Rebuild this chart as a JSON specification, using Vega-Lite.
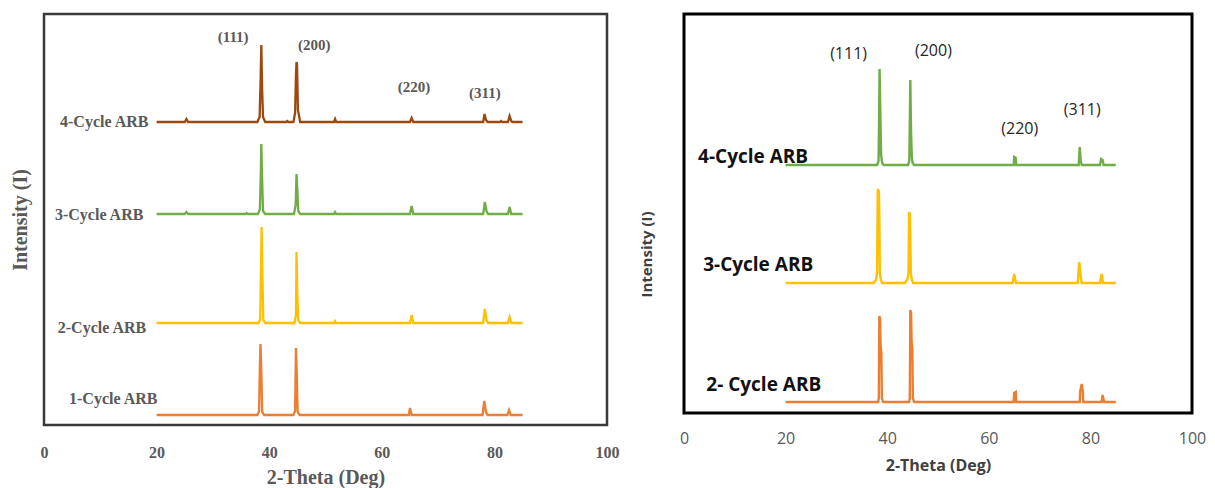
{
  "$schema": "https://vega.github.io/schema/vega-lite/v6.json",
  "background": "white",
  "padding": {"left": 8, "top": 12, "right": 0, "bottom": 0},
  "spacing": 16,
  "config": {"view": {"stroke": null}, "axis": {"grid": false}},
  "datasets": {
    "L": [
      {"s": "4-Cycle", "x": 20, "y": 303}, {"s": "4-Cycle", "x": 25.0, "y": 303}, {"s": "4-Cycle", "x": 25.3, "y": 306}, {"s": "4-Cycle", "x": 25.6, "y": 303},
      {"s": "4-Cycle", "x": 37.9, "y": 303}, {"s": "4-Cycle", "x": 38.3, "y": 308}, {"s": "4-Cycle", "x": 38.45, "y": 340}, {"s": "4-Cycle", "x": 38.6, "y": 380}, {"s": "4-Cycle", "x": 38.75, "y": 335}, {"s": "4-Cycle", "x": 38.9, "y": 308}, {"s": "4-Cycle", "x": 39.3, "y": 303},
      {"s": "4-Cycle", "x": 43.0, "y": 303}, {"s": "4-Cycle", "x": 43.2, "y": 304}, {"s": "4-Cycle", "x": 43.4, "y": 303},
      {"s": "4-Cycle", "x": 44.3, "y": 303}, {"s": "4-Cycle", "x": 44.6, "y": 312}, {"s": "4-Cycle", "x": 44.75, "y": 350}, {"s": "4-Cycle", "x": 44.85, "y": 363}, {"s": "4-Cycle", "x": 44.95, "y": 360}, {"s": "4-Cycle", "x": 45.1, "y": 315}, {"s": "4-Cycle", "x": 45.5, "y": 303},
      {"s": "4-Cycle", "x": 51.5, "y": 303}, {"s": "4-Cycle", "x": 51.7, "y": 306}, {"s": "4-Cycle", "x": 51.9, "y": 303},
      {"s": "4-Cycle", "x": 65.0, "y": 303}, {"s": "4-Cycle", "x": 65.3, "y": 307}, {"s": "4-Cycle", "x": 65.6, "y": 303},
      {"s": "4-Cycle", "x": 78.0, "y": 303}, {"s": "4-Cycle", "x": 78.25, "y": 311}, {"s": "4-Cycle", "x": 78.5, "y": 305}, {"s": "4-Cycle", "x": 78.8, "y": 303},
      {"s": "4-Cycle", "x": 81.0, "y": 303}, {"s": "4-Cycle", "x": 81.2, "y": 304}, {"s": "4-Cycle", "x": 81.4, "y": 303},
      {"s": "4-Cycle", "x": 82.4, "y": 303}, {"s": "4-Cycle", "x": 82.7, "y": 309}, {"s": "4-Cycle", "x": 83.0, "y": 304}, {"s": "4-Cycle", "x": 83.2, "y": 303}, {"s": "4-Cycle", "x": 85, "y": 303},

      {"s": "3-Cycle", "x": 20, "y": 211}, {"s": "3-Cycle", "x": 25.0, "y": 211}, {"s": "3-Cycle", "x": 25.3, "y": 213}, {"s": "3-Cycle", "x": 25.6, "y": 211},
      {"s": "3-Cycle", "x": 35.8, "y": 211}, {"s": "3-Cycle", "x": 36.0, "y": 212}, {"s": "3-Cycle", "x": 36.2, "y": 211},
      {"s": "3-Cycle", "x": 38.0, "y": 211}, {"s": "3-Cycle", "x": 38.35, "y": 216}, {"s": "3-Cycle", "x": 38.5, "y": 250}, {"s": "3-Cycle", "x": 38.6, "y": 281}, {"s": "3-Cycle", "x": 38.75, "y": 245}, {"s": "3-Cycle", "x": 38.9, "y": 214}, {"s": "3-Cycle", "x": 39.3, "y": 211},
      {"s": "3-Cycle", "x": 44.4, "y": 211}, {"s": "3-Cycle", "x": 44.7, "y": 220}, {"s": "3-Cycle", "x": 44.85, "y": 251}, {"s": "3-Cycle", "x": 45.0, "y": 235}, {"s": "3-Cycle", "x": 45.15, "y": 214}, {"s": "3-Cycle", "x": 45.5, "y": 211},
      {"s": "3-Cycle", "x": 51.5, "y": 211}, {"s": "3-Cycle", "x": 51.7, "y": 213}, {"s": "3-Cycle", "x": 51.9, "y": 211},
      {"s": "3-Cycle", "x": 65.0, "y": 211}, {"s": "3-Cycle", "x": 65.3, "y": 219}, {"s": "3-Cycle", "x": 65.6, "y": 211},
      {"s": "3-Cycle", "x": 78.0, "y": 211}, {"s": "3-Cycle", "x": 78.3, "y": 223}, {"s": "3-Cycle", "x": 78.6, "y": 214}, {"s": "3-Cycle", "x": 78.9, "y": 211},
      {"s": "3-Cycle", "x": 82.4, "y": 211}, {"s": "3-Cycle", "x": 82.7, "y": 218}, {"s": "3-Cycle", "x": 83.0, "y": 211}, {"s": "3-Cycle", "x": 85, "y": 211},

      {"s": "2-Cycle", "x": 20, "y": 102}, {"s": "2-Cycle", "x": 38.1, "y": 102}, {"s": "2-Cycle", "x": 38.4, "y": 106}, {"s": "2-Cycle", "x": 38.55, "y": 160}, {"s": "2-Cycle", "x": 38.65, "y": 198}, {"s": "2-Cycle", "x": 38.8, "y": 150}, {"s": "2-Cycle", "x": 38.95, "y": 105}, {"s": "2-Cycle", "x": 39.3, "y": 102},
      {"s": "2-Cycle", "x": 44.5, "y": 102}, {"s": "2-Cycle", "x": 44.75, "y": 110}, {"s": "2-Cycle", "x": 44.85, "y": 173}, {"s": "2-Cycle", "x": 45.0, "y": 130}, {"s": "2-Cycle", "x": 45.15, "y": 105}, {"s": "2-Cycle", "x": 45.5, "y": 102},
      {"s": "2-Cycle", "x": 51.5, "y": 102}, {"s": "2-Cycle", "x": 51.7, "y": 104}, {"s": "2-Cycle", "x": 51.9, "y": 102},
      {"s": "2-Cycle", "x": 65.0, "y": 102}, {"s": "2-Cycle", "x": 65.3, "y": 110}, {"s": "2-Cycle", "x": 65.6, "y": 102},
      {"s": "2-Cycle", "x": 78.0, "y": 102}, {"s": "2-Cycle", "x": 78.3, "y": 116}, {"s": "2-Cycle", "x": 78.6, "y": 105}, {"s": "2-Cycle", "x": 78.9, "y": 102},
      {"s": "2-Cycle", "x": 82.4, "y": 102}, {"s": "2-Cycle", "x": 82.7, "y": 108}, {"s": "2-Cycle", "x": 83.0, "y": 102}, {"s": "2-Cycle", "x": 85, "y": 102},

      {"s": "1-Cycle", "x": 20, "y": 10}, {"s": "1-Cycle", "x": 37.9, "y": 10}, {"s": "1-Cycle", "x": 38.2, "y": 14}, {"s": "1-Cycle", "x": 38.35, "y": 60}, {"s": "1-Cycle", "x": 38.45, "y": 81}, {"s": "1-Cycle", "x": 38.6, "y": 55}, {"s": "1-Cycle", "x": 38.75, "y": 13}, {"s": "1-Cycle", "x": 39.1, "y": 10},
      {"s": "1-Cycle", "x": 44.3, "y": 10}, {"s": "1-Cycle", "x": 44.6, "y": 14}, {"s": "1-Cycle", "x": 44.75, "y": 77}, {"s": "1-Cycle", "x": 44.9, "y": 50}, {"s": "1-Cycle", "x": 45.05, "y": 13}, {"s": "1-Cycle", "x": 45.4, "y": 10},
      {"s": "1-Cycle", "x": 64.8, "y": 10}, {"s": "1-Cycle", "x": 65.0, "y": 17}, {"s": "1-Cycle", "x": 65.3, "y": 10},
      {"s": "1-Cycle", "x": 77.9, "y": 10}, {"s": "1-Cycle", "x": 78.2, "y": 24}, {"s": "1-Cycle", "x": 78.5, "y": 13}, {"s": "1-Cycle", "x": 78.8, "y": 10},
      {"s": "1-Cycle", "x": 82.3, "y": 10}, {"s": "1-Cycle", "x": 82.6, "y": 15}, {"s": "1-Cycle", "x": 82.9, "y": 10}, {"s": "1-Cycle", "x": 85, "y": 10}
    ],
    "R": [
      {"s": "4-Cycle", "x": 20, "y": 248}, {"s": "4-Cycle", "x": 38.0, "y": 248}, {"s": "4-Cycle", "x": 38.3, "y": 252}, {"s": "4-Cycle", "x": 38.4, "y": 290}, {"s": "4-Cycle", "x": 38.5, "y": 344}, {"s": "4-Cycle", "x": 38.65, "y": 300}, {"s": "4-Cycle", "x": 38.8, "y": 258}, {"s": "4-Cycle", "x": 39.0, "y": 250}, {"s": "4-Cycle", "x": 39.3, "y": 248},
      {"s": "4-Cycle", "x": 44.1, "y": 248}, {"s": "4-Cycle", "x": 44.35, "y": 252}, {"s": "4-Cycle", "x": 44.45, "y": 290}, {"s": "4-Cycle", "x": 44.55, "y": 333}, {"s": "4-Cycle", "x": 44.7, "y": 280}, {"s": "4-Cycle", "x": 44.85, "y": 256}, {"s": "4-Cycle", "x": 45.0, "y": 250}, {"s": "4-Cycle", "x": 45.3, "y": 248},
      {"s": "4-Cycle", "x": 64.9, "y": 248}, {"s": "4-Cycle", "x": 65.0, "y": 256}, {"s": "4-Cycle", "x": 65.3, "y": 255}, {"s": "4-Cycle", "x": 65.4, "y": 248},
      {"s": "4-Cycle", "x": 77.7, "y": 248}, {"s": "4-Cycle", "x": 77.9, "y": 266}, {"s": "4-Cycle", "x": 78.1, "y": 252}, {"s": "4-Cycle", "x": 78.3, "y": 248},
      {"s": "4-Cycle", "x": 81.9, "y": 248}, {"s": "4-Cycle", "x": 82.1, "y": 254}, {"s": "4-Cycle", "x": 82.4, "y": 253}, {"s": "4-Cycle", "x": 82.6, "y": 248}, {"s": "4-Cycle", "x": 85, "y": 248},

      {"s": "3-Cycle", "x": 20, "y": 130}, {"s": "3-Cycle", "x": 37.3, "y": 130}, {"s": "3-Cycle", "x": 37.8, "y": 133}, {"s": "3-Cycle", "x": 38.0, "y": 140}, {"s": "3-Cycle", "x": 38.15, "y": 224}, {"s": "3-Cycle", "x": 38.35, "y": 222}, {"s": "3-Cycle", "x": 38.45, "y": 200}, {"s": "3-Cycle", "x": 38.55, "y": 140}, {"s": "3-Cycle", "x": 38.75, "y": 133}, {"s": "3-Cycle", "x": 39.0, "y": 130},
      {"s": "3-Cycle", "x": 43.5, "y": 130}, {"s": "3-Cycle", "x": 44.0, "y": 134}, {"s": "3-Cycle", "x": 44.2, "y": 140}, {"s": "3-Cycle", "x": 44.3, "y": 201}, {"s": "3-Cycle", "x": 44.45, "y": 199}, {"s": "3-Cycle", "x": 44.55, "y": 180}, {"s": "3-Cycle", "x": 44.65, "y": 140}, {"s": "3-Cycle", "x": 44.85, "y": 133}, {"s": "3-Cycle", "x": 45.1, "y": 130},
      {"s": "3-Cycle", "x": 64.7, "y": 130}, {"s": "3-Cycle", "x": 65.0, "y": 139}, {"s": "3-Cycle", "x": 65.2, "y": 133}, {"s": "3-Cycle", "x": 65.4, "y": 130},
      {"s": "3-Cycle", "x": 77.5, "y": 130}, {"s": "3-Cycle", "x": 77.8, "y": 151}, {"s": "3-Cycle", "x": 78.1, "y": 137}, {"s": "3-Cycle", "x": 78.3, "y": 130},
      {"s": "3-Cycle", "x": 81.9, "y": 130}, {"s": "3-Cycle", "x": 82.2, "y": 139}, {"s": "3-Cycle", "x": 82.5, "y": 130}, {"s": "3-Cycle", "x": 85, "y": 130},

      {"s": "2-Cycle", "x": 20, "y": 11}, {"s": "2-Cycle", "x": 38.2, "y": 11}, {"s": "2-Cycle", "x": 38.35, "y": 15}, {"s": "2-Cycle", "x": 38.45, "y": 97}, {"s": "2-Cycle", "x": 38.6, "y": 94}, {"s": "2-Cycle", "x": 38.7, "y": 66}, {"s": "2-Cycle", "x": 38.85, "y": 60}, {"s": "2-Cycle", "x": 38.95, "y": 15}, {"s": "2-Cycle", "x": 39.2, "y": 11},
      {"s": "2-Cycle", "x": 44.3, "y": 11}, {"s": "2-Cycle", "x": 44.45, "y": 15}, {"s": "2-Cycle", "x": 44.55, "y": 103}, {"s": "2-Cycle", "x": 44.7, "y": 100}, {"s": "2-Cycle", "x": 44.8, "y": 71}, {"s": "2-Cycle", "x": 44.95, "y": 65}, {"s": "2-Cycle", "x": 45.05, "y": 15}, {"s": "2-Cycle", "x": 45.3, "y": 11},
      {"s": "2-Cycle", "x": 64.9, "y": 11}, {"s": "2-Cycle", "x": 65.0, "y": 20}, {"s": "2-Cycle", "x": 65.3, "y": 21}, {"s": "2-Cycle", "x": 65.4, "y": 11},
      {"s": "2-Cycle", "x": 77.9, "y": 11}, {"s": "2-Cycle", "x": 78.0, "y": 22}, {"s": "2-Cycle", "x": 78.3, "y": 29}, {"s": "2-Cycle", "x": 78.5, "y": 22}, {"s": "2-Cycle", "x": 78.6, "y": 11},
      {"s": "2-Cycle", "x": 82.2, "y": 11}, {"s": "2-Cycle", "x": 82.4, "y": 18}, {"s": "2-Cycle", "x": 82.7, "y": 11}, {"s": "2-Cycle", "x": 85, "y": 11}
    ],
    "Ls": [
      {"x": 10.7, "y": 303, "t": "4-Cycle ARB"},
      {"x": 9.8, "y": 210, "t": "3-Cycle ARB"},
      {"x": 10.3, "y": 97, "t": "2-Cycle ARB"},
      {"x": 12.3, "y": 26, "t": "1-Cycle ARB"}
    ],
    "Lp": [
      {"x": 33.6, "y": 388, "t": "(111)"},
      {"x": 48.0, "y": 380, "t": "(200)"},
      {"x": 65.7, "y": 338, "t": "(220)"},
      {"x": 78.3, "y": 332, "t": "(311)"}
    ],
    "Rs": [
      {"x": 13.6, "y": 256, "t": "4-Cycle ARB"},
      {"x": 14.6, "y": 148, "t": "3-Cycle ARB"},
      {"x": 15.7, "y": 28, "t": "2- Cycle ARB"}
    ],
    "Rp": [
      {"x": 32.4, "y": 359, "t": "(111)"},
      {"x": 49.1, "y": 362, "t": "(200)"},
      {"x": 66.1, "y": 284, "t": "(220)"},
      {"x": 78.4, "y": 303, "t": "(311)"}
    ]
  },
  "hconcat": [
    {
      "width": 563,
      "height": 411,
      "view": {"stroke": "#3a3a3a", "strokeWidth": 2.5},
      "encoding": {
        "x": {
          "field": "x", "type": "quantitative",
          "scale": {"domain": [0, 100], "nice": false},
          "axis": {
            "values": [0, 20, 40, 60, 80, 100], "ticks": false, "domain": false, "grid": false,
            "labelFont": "Liberation Serif", "labelFontWeight": "bold", "labelFontSize": 16, "labelColor": "#595959",
            "labelPadding": 19, "labelFlush": false, "labelOverlap": false,
            "title": "2-Theta (Deg)", "titleFont": "Liberation Serif", "titleFontWeight": "bold", "titleFontSize": 20, "titleColor": "#595959", "titlePadding": 7
          }
        },
        "y": {
          "field": "y", "type": "quantitative",
          "scale": {"domain": [0, 411], "nice": false},
          "axis": {
            "ticks": false, "labels": false, "domain": false, "grid": false,
            "title": "Intensity (I)", "titleFont": "Liberation Serif", "titleFontWeight": "bold", "titleFontSize": 20, "titleColor": "#595959", "titlePadding": 14
          }
        }
      },
      "layer": [
        {
          "data": {"name": "L"},
          "mark": {"type": "line", "strokeWidth": 2.3, "interpolate": "linear"},
          "encoding": {
            "color": {
              "field": "s", "type": "nominal",
              "scale": {"domain": ["1-Cycle", "2-Cycle", "3-Cycle", "4-Cycle"], "range": ["#ED7D31", "#FFC000", "#70AD47", "#9E480E"]},
              "legend": null
            }
          }
        },
        {
          "data": {"name": "Ls"},
          "mark": {"type": "text", "font": "Liberation Serif", "fontWeight": "bold", "fontSize": 16, "color": "#595959", "align": "center", "baseline": "middle"},
          "encoding": {"text": {"field": "t"}}
        },
        {
          "data": {"name": "Lp"},
          "mark": {"type": "text", "font": "Liberation Serif", "fontWeight": "bold", "fontSize": 15, "color": "#595959", "align": "center", "baseline": "middle"},
          "encoding": {"text": {"field": "t"}}
        }
      ]
    },
    {
      "width": 508,
      "height": 399,
      "view": {"stroke": "#000000", "strokeWidth": 3},
      "encoding": {
        "x": {
          "field": "x", "type": "quantitative",
          "scale": {"domain": [0, 100], "nice": false},
          "axis": {
            "values": [0, 20, 40, 60, 80, 100], "ticks": false, "domain": false, "grid": false,
            "labelFont": "Open Sans", "labelFontSize": 16, "labelColor": "#595959",
            "labelPadding": 17, "labelFlush": false, "labelOverlap": false,
            "title": "2-Theta (Deg)", "titleFont": "Open Sans", "titleFontWeight": "bold", "titleFontSize": 16, "titleColor": "#404040", "titlePadding": 11
          }
        },
        "y": {
          "field": "y", "type": "quantitative",
          "scale": {"domain": [0, 399], "nice": false},
          "axis": {
            "ticks": false, "labels": false, "domain": false, "grid": false,
            "title": "Intensity (I)", "titleFont": "Open Sans", "titleFontWeight": "bold", "titleFontSize": 15, "titleColor": "#404040", "titlePadding": 30, "titleY": 240
          }
        }
      },
      "layer": [
        {
          "data": {"name": "R"},
          "mark": {"type": "line", "strokeWidth": 2.4, "interpolate": "linear"},
          "encoding": {
            "color": {
              "field": "s", "type": "nominal",
              "scale": {"domain": ["2-Cycle", "3-Cycle", "4-Cycle"], "range": ["#ED7D31", "#FFC000", "#70AD47"]},
              "legend": null
            }
          }
        },
        {
          "data": {"name": "Rs"},
          "mark": {"type": "text", "font": "Open Sans", "fontWeight": "bold", "fontSize": 19, "color": "#111111", "align": "center", "baseline": "middle"},
          "encoding": {"text": {"field": "t"}}
        },
        {
          "data": {"name": "Rp"},
          "mark": {"type": "text", "font": "Open Sans", "fontSize": 16, "color": "#262626", "align": "center", "baseline": "middle"},
          "encoding": {"text": {"field": "t"}}
        }
      ]
    }
  ],
  "resolve": {"scale": {"color": "independent", "x": "independent", "y": "independent"}}
}
